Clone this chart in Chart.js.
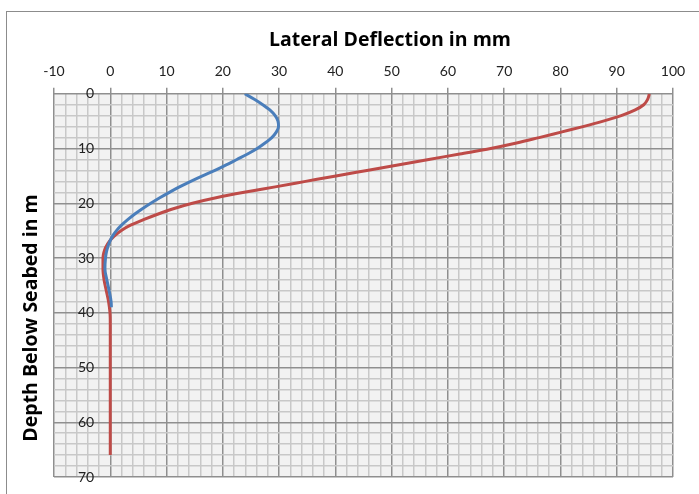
<!DOCTYPE html>
<html>
<head>
<meta charset="utf-8">
<script src="https://cdn.jsdelivr.net/npm/chart.js@4.4.1/dist/chart.umd.min.js"></script>
<style>
body{margin:0;background:#fff;}
#wrap{width:699px;height:494px;position:relative;}
</style>
</head>
<body>
<div id="wrap"><canvas id="deflChart"></canvas></div>
<script>

/* ================= DATA ================= */
const xTitle="Lateral Deflection in mm";
const yTitle="Depth Below Seabed in m";

const xMin=-10, xMax=100;
const yMin=0, yMax=70;

const seriesNames=["Series 1","Series 2"];

const blueDepth=[0,1,2,3,4,5,6,7,8,9,10,11,12,13,14,15,16,17,18,19,20,21,22,23,24,25,26,27,28,29,30,32,34,36,38,39];
const blueDefl=[23.9,25.6,27.1,28.4,29.3,29.8,29.9,29.5,28.7,27.5,26.1,24.4,22.5,20.6,18.6,16.4,14.3,12.3,10.5,8.8,7.2,5.7,4.3,3.1,2.0,1.1,0.4,-0.1,-0.45,-0.7,-0.85,-0.95,-0.6,-0.2,0.15,0.2];

const redDepth=[0,1,2,3,4,5,6,7,8,9,10,11,12,13,14,15,16,17,18,19,20,21,22,23,24,25,26,27,28,29,30,32,34,36,38,40,42,50,60,66];
const redDefl=[95.8,95.5,94.8,93.2,90.8,87.6,84.0,80.1,76.2,72.2,67.6,62.1,56.6,51.1,45.6,40.1,34.7,29.3,23.8,18.8,14.6,11.2,8.4,5.9,3.6,1.9,0.7,-0.2,-0.8,-1.15,-1.3,-1.3,-1.1,-0.7,-0.3,-0.05,0,0,0,0];

const toPoints=(xs,ys)=>xs.map((v,i)=>({x:v,y:ys[i]}));

const majorGrid="#8f8f8f";
const minorGrid="#c8c8c8";
const isMajor=(v)=>Math.abs(v%10)<1e-6;

/* ================= PLUGINS ================= */
const frame={
id:"frame",
beforeDraw(chart){
const {ctx,chartArea:a}=chart;
ctx.save();
ctx.fillStyle="#f2f2f2";
ctx.fillRect(a.left,a.top,a.right-a.left,a.bottom-a.top);
ctx.strokeStyle="#8c8c8c";
ctx.lineWidth=1;
ctx.strokeRect(6.5,11.5,760,560);
ctx.restore();
},
afterDraw(chart){
const ctx=chart.ctx;
ctx.save();
ctx.fillStyle="#000";
ctx.font="bold 19.5px 'Open Sans'";
ctx.textAlign="center";
ctx.textBaseline="middle";
ctx.fillText(xTitle,390,40);
ctx.translate(31,318);
ctx.rotate(-Math.PI/2);
ctx.fillText(yTitle,0,0);
ctx.restore();
}
};

/* ================= CHART ================= */
new Chart(
document.getElementById("deflChart"),
{
type:"line",
data:{
datasets:[
{
label:seriesNames[0],
data:toPoints(blueDefl,blueDepth),
borderColor:"#4a7ebb",
borderWidth:3,
pointRadius:0,
fill:false,
cubicInterpolationMode:"monotone"
},
{
label:seriesNames[1],
data:toPoints(redDefl,redDepth),
borderColor:"#be4b48",
borderWidth:3,
pointRadius:0,
fill:false,
cubicInterpolationMode:"monotone"
}
]
},
options:{
indexAxis:"y",
responsive:true,
maintainAspectRatio:false,
animation:false,
layout:{
padding:{left:6,right:26,top:55,bottom:17}
},
plugins:{
legend:{display:false},
tooltip:{enabled:false}
},
scales:{
x:{
type:"linear",
position:"top",
min:xMin,
max:xMax,
ticks:{
stepSize:2,
autoSkip:false,
maxRotation:0,
padding:8,
color:"#222",
font:{family:"Lato",size:14},
callback:(v)=>isMajor(v)?String(v):""
},
grid:{
color:(c)=>isMajor(c.tick.value)?majorGrid:minorGrid,
lineWidth:1.5,
drawTicks:true,
tickLength:6,
tickColor:(c)=>isMajor(c.tick.value)?majorGrid:"rgba(0,0,0,0)"
},
border:{display:false}
},
y:{
type:"linear",
position:"left",
reverse:true,
min:yMin,
max:yMax,
afterFit:(s)=>{s.paddingTop=8;s.paddingBottom=8;},
ticks:{
stepSize:2,
autoSkip:false,
mirror:true,
crossAlign:"far",
padding:24,
color:"#222",
font:{family:"Lato",size:14},
callback:(v)=>isMajor(v)?String(v):""
},
grid:{
color:(c)=>isMajor(c.tick.value)?majorGrid:minorGrid,
lineWidth:1.5,
drawTicks:false
},
border:{display:false}
}
}
},
plugins:[frame]
}
);

</script>
</body>
</html>
